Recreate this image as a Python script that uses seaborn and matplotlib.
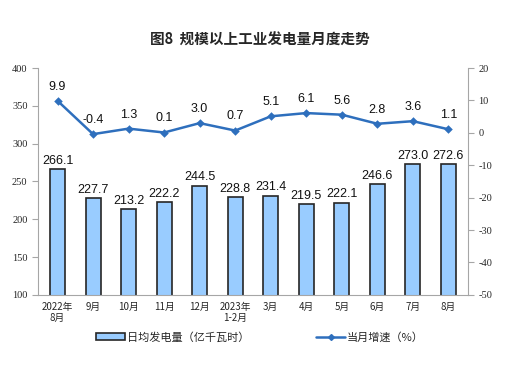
import matplotlib
matplotlib.use("Agg")
import matplotlib.pyplot as plt
import seaborn as sns
from matplotlib.patches import Patch
from matplotlib.lines import Line2D

months = ["2022年\n8月", "9月", "10月", "11月", "12月", "2023年\n1-2月",
          "3月", "4月", "5月", "6月", "7月", "8月"]
daily_output = [266.1, 227.7, 213.2, 222.2, 244.5, 228.8,
                231.4, 219.5, 222.1, 246.6, 273.0, 272.6]
growth = [9.9, -0.4, 1.3, 0.1, 3.0, 0.7, 5.1, 6.1, 5.6, 2.8, 3.6, 1.1]

sns.set_style("white")
plt.rcParams["font.family"] = ["Noto Sans CJK SC", "DejaVu Sans"]
plt.rcParams["axes.unicode_minus"] = False

bar_color = "#99ccff"
line_color = "#2e6fbd"
spine_color = "#a6a6a6"

fig = plt.figure(figsize=(5.2, 3.78), dpi=100)
ax = fig.add_axes([0.073, 0.22, 0.827, 0.60])

sns.barplot(x=months, y=daily_output, ax=ax, color=bar_color,
            edgecolor="#262626", linewidth=1.2, width=0.42, saturation=1)
ax.set_ylim(100, 400)
ax.set_yticks(range(100, 401, 50))
for i, v in enumerate(daily_output):
    ax.text(i, v + 3, f"{v:.1f}", ha="center", va="bottom", fontsize=9,
            family="Liberation Sans", color="#111111")

ax2 = ax.twinx()
sns.pointplot(x=months, y=growth, ax=ax2, color=line_color, markers="D",
              markersize=3, linewidth=1.8)
ax2.set_ylim(-50, 20)
ax2.set_yticks(range(-50, 21, 10))
for i, v in enumerate(growth):
    ax2.text(i, v + 2.5, f"{v:.1f}", ha="center", va="bottom", fontsize=9,
             family="Liberation Sans", color="#111111")

ax.set_xlim(-0.55, 11.55)
for a in (ax, ax2):
    a.set_xlabel("")
    a.set_ylabel("")
    a.spines["top"].set_visible(False)
    for s in ("left", "right", "bottom"):
        a.spines[s].set_color(spine_color)
        a.spines[s].set_linewidth(0.8)
ax.spines["right"].set_visible(False)
ax2.spines["left"].set_visible(False)
ax2.spines["bottom"].set_visible(False)

ax.tick_params(axis="y", length=4, color=spine_color, labelsize=7.5)
ax2.tick_params(axis="y", length=4, color=spine_color, labelsize=7.5)
for lab in ax.get_yticklabels() + ax2.get_yticklabels():
    lab.set_family("Liberation Serif")
ax.tick_params(axis="x", length=0, labelsize=7, pad=5)
ax.set_xticks([i + 0.5 for i in range(-1, 12)], minor=True)
ax.tick_params(axis="x", which="minor", length=3, color=spine_color)

fig.suptitle("图8  规模以上工业发电量月度走势", x=0.5, y=0.915,
             fontsize=10.5, fontweight="bold")

handles = [Patch(facecolor=bar_color, edgecolor="#262626", linewidth=1.2),
           Line2D([0], [0], color=line_color, marker="D", markersize=3, linewidth=1.8)]
fig.legend(handles, ["日均发电量（亿千瓦时）", "当月增速（%）"],
           loc="center", bbox_to_anchor=(0.5, 0.108), ncol=2, frameon=False,
           fontsize=8, handlelength=2.6, handleheight=0.6, columnspacing=6,
           handletextpad=0.2)

fig.savefig("out.png", dpi=100)
